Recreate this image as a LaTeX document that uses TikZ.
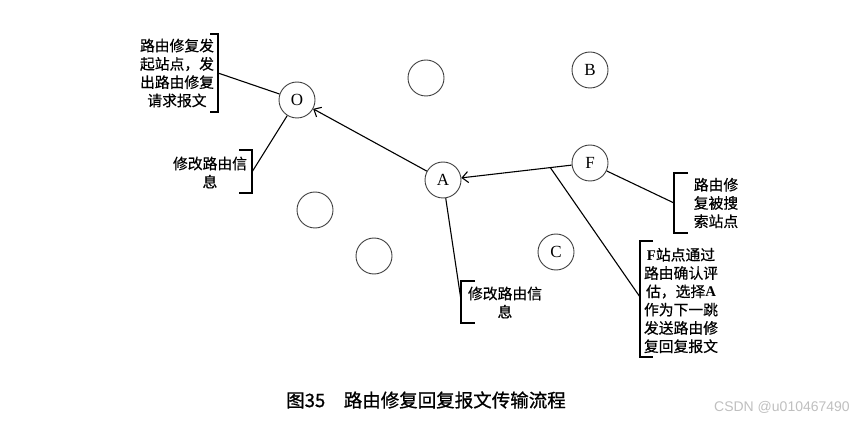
\documentclass[tikz,border=0pt]{standalone}
\usepackage{fontspec}
\setmainfont{Liberation Serif}
\newfontfamily\cjk[FakeBold=0.5]{Noto Sans CJK SC}
\newfontfamily\cjkcap[FakeBold=0.8]{Noto Sans CJK SC}
\newfontfamily\wm{Liberation Sans}
\usetikzlibrary{arrows.meta,calc}
\begin{document}
\begin{tikzpicture}[x=1pt,y=-1pt,
  site/.style={circle,draw=black!75,line width=0.9pt,minimum size=36pt,inner sep=0pt,font=\fontsize{17}{17}\selectfont},
  link/.style={line width=1.1pt,black},
  brk/.style={line width=1.1pt,black},
  note/.style={align=center,inner sep=0pt,font=\cjk\fontsize{14.8}{18.3}\selectfont},
  capt/.style={inner sep=0pt,font=\cjkcap\fontsize{18.5}{20}\selectfont}
]
\useasboundingbox (0,0) rectangle (865,422);
% sites
\node[site] (O) at (297,100) {O};
\node[site] (E1) at (426,78) {};
\node[site] (B) at (590,70) {B};
\node[site] (A) at (443,180) {A};
\node[site] (F) at (590,163) {F};
\node[site] (C) at (556,252) {C};
\node[site] (E2) at (315,210) {};
\node[site] (E3) at (374,256) {};
% arrows
\draw[link,-{Straight Barb[length=6pt,width=11pt]}] (A) -- (O);
\draw[link,-{Straight Barb[length=6pt,width=11pt]}] (F) -- (A);
\coordinate (j) at ($(F)!0.27!(A)$);
% note 1 (top left)
\node[note] (n1) at (177,73) {路由修复发\\起站点，发\\出路由修复\\请求报文};
\draw[brk] (210,34) -- (218,34) -- (218,112) -- (210,112);
\coordinate (b1) at (218,73);
\draw[link] (b1) -- (O);
% note 2 (left of O)
\node[note] (n2) at (210,172.5) {修改路由信\\息};
\draw[brk] (239,150) -- (252,150) -- (252,193) -- (239,193);
\coordinate (b2) at (252,172);
\draw[link] (b2) -- (O);
% note 3 (below A)
\node[note] (n3) at (505,302.5) {修改路由信\\息};
\draw[brk] (475,281) -- (461,281) -- (461,323) -- (475,323);
\coordinate (b3) at (461,300);
\draw[link] (A) -- (b3);
% note 4 (right of F)
\node[note] (n4) at (716,203) {路由修\\复被搜\\索站点};
\draw[brk] (688,173) -- (674,173) -- (674,233) -- (688,233);
\coordinate (b4) at (674,203);
\draw[link] (F) -- (b4);
% note 5 (big)
\node[note] (n5) at (681,300.5) {{\rmfamily\bfseries F}站点通过\\路由确认评\\估，选择{\rmfamily\bfseries A}\\作为下一跳\\发送路由修\\复回复报文};
\draw[brk] (653,241) -- (640,241) -- (640,357) -- (653,357);
\coordinate (b5) at (640,297);
\draw[link] (j) -- (b5);
% caption
\node[capt] (cap) at (426,400) {图35\quad 路由修复回复报文传输流程};
\node[inner sep=0pt,text=black!25,font=\wm\fontsize{14}{14}\selectfont] (wmk) at (782,407) {CSDN @u010467490};
\end{tikzpicture}
\end{document}
